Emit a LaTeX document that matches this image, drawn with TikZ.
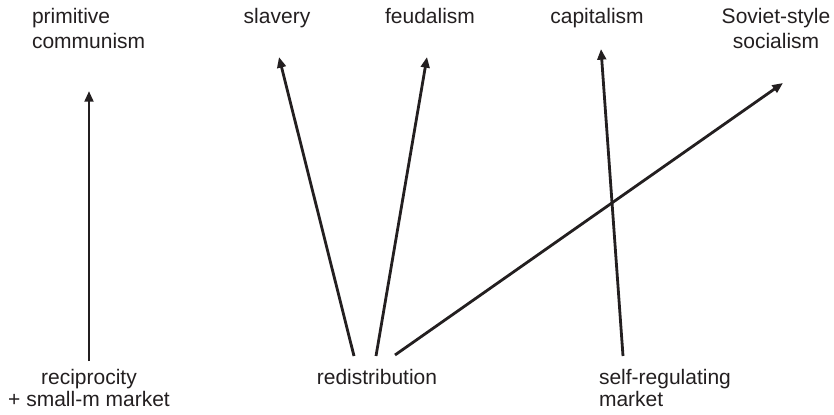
\documentclass[tikz,border=0pt]{standalone}
\usepackage{fontspec}
\setmainfont{Liberation Sans}
\usetikzlibrary{arrows.meta}
\definecolor{ink}{HTML}{231F20}
\begin{document}
\begin{tikzpicture}[x=0.75pt,y=-0.75pt,
  lbl/.style={inner sep=0pt,outer sep=0pt,text=ink,font=\fontsize{15.75}{18.75}\selectfont},
  lblb/.style={lbl,font=\fontsize{15.75}{16.5}\selectfont},
  arr/.style={draw=ink,line width=2.1pt,-{Triangle[length=8pt,width=6.5pt]}}]
\useasboundingbox (0,0) rectangle (834,414);
% labels (base anchor of a two-line node = baseline of its last line)
\node[lbl,anchor=base west,align=left] (pc) at (32,48) {primitive\\communism};
\node[lbl,anchor=base] (sl) at (277,23) {slavery};
\node[lbl,anchor=base] (fe) at (430,23) {feudalism};
\node[lbl,anchor=base] (ca) at (597,23) {capitalism};
\node[lbl,anchor=base,align=center] (ss) at (776,48) {Soviet-style\\socialism};
\node[lblb,anchor=base,align=center] (re) at (89,406) {reciprocity\\+ small-m market};
\node[lblb,anchor=base] (rd) at (377,384) {redistribution};
\node[lblb,anchor=base west,align=left] (sr) at (599,406) {self-regulating\\market};
% arrow ends
\coordinate (a1s) at (89,361);  \coordinate (a1e) at (89,91);
\coordinate (a2s) at (354,356); \coordinate (a2e) at (279,57);
\coordinate (a3s) at (376,356); \coordinate (a3e) at (427,57);
\coordinate (a4s) at (395,355); \coordinate (a4e) at (783,83);
\coordinate (a5s) at (623,356); \coordinate (a5e) at (601,49);
\draw[arr] (a1s) -- (a1e);
\draw[arr] (a2s) -- (a2e);
\draw[arr] (a3s) -- (a3e);
\draw[arr] (a4s) -- (a4e);
\draw[arr] (a5s) -- (a5e);
\end{tikzpicture}
\end{document}
